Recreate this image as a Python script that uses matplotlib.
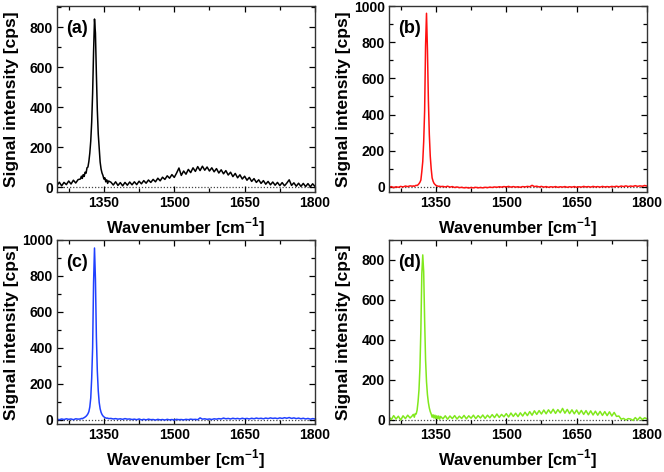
import numpy as np
import matplotlib
matplotlib.use("Agg")
import matplotlib.pyplot as plt
from matplotlib.ticker import MultipleLocator

plt.rcParams["font.family"] = ["Liberation Sans", "DejaVu Sans"]
plt.rcParams["font.weight"] = "bold"
plt.rcParams["mathtext.fontset"] = "custom"
plt.rcParams["mathtext.rm"] = "Liberation Sans:bold"
plt.rcParams["mathtext.bf"] = "Liberation Sans:bold"

# wavenumber grid: coarse left, dense around the diamond peak, coarse right
WN = np.concatenate([np.arange(1250, 1300, 5),
                     np.arange(1300, 1362, 2),
                     np.arange(1365, 1805, 5)])

INT_A = [
    # 1250-1295
    8, 24, 6, 23, 12, 30, 15, 34, 20, 37,
    # 1300-1360 (step 2)
    40, 54, 43, 62, 53, 74, 69, 96, 100, 128,
    170, 230, 325, 470, 675, 840, 770, 565, 385, 265,
    192, 125, 90, 70, 58, 40, 46, 26, 36, 18, 30,
    # 1365-1800
    24, 10, 26, 8, 22, 6, 23, 9, 25, 11,
    26, 12, 29, 16, 32, 19, 35, 23, 38, 26,
    44, 31, 49, 38, 56, 44, 62, 48, 70, 95,
    58, 80, 64, 88, 72, 96, 78, 102, 82, 104,
    84, 100, 80, 96, 76, 92, 70, 86, 66, 82,
    60, 74, 52, 68, 46, 61, 40, 54, 34, 48,
    28, 42, 23, 36, 18, 32, 14, 28, 11, 25,
    9, 23, 7, 22, 6, 20, 36, 8, 21, 4,
    19, 3, 18, 2, 17, 1, 16, 3,
]

INT_B = [
    -3, 2, -4, 1, -2, 3, 0, 5, 2, 6,
    4, 6, 3, 7, 9, 8, 12, 18, 26, 38,
    85, 140, 250, 420, 780, 960, 760, 480, 290, 170,
    100, 50, 32, 20, 14, 9, 6, 5, 3, 4, 2,
    3, 0, 4, -1, 2, -3, 0, -4, -2, -5,
    -3, -6, -3, -5, -2, -5, -3, -5, -2, -4,
    -1, -3, 0, -2, 1, -1, 2, 0, 3, -1,
    2, -1, 1, -2, 2, 0, 3, 1, 9, 2,
    4, 0, 3, -1, 2, -2, 1, -1, 2, -2,
    1, -1, 2, -2, 1, -1, 2, -2, 1, -1,
    3, 0, 2, -1, 3, 0, 2, -1, 3, 0,
    2, 0, 3, 1, 4, 1, 5, 2, 6, 2,
    5, 3, 7, 3, 6, 4, 8, 5,
]

INT_C = [
    2, -1, 3, 0, 4, 1, 3, -1, 4, 2,
    3, 6, 4, 8, 10, 14, 18, 24, 32, 44,
    70, 120, 230, 400, 760, 955, 780, 460, 270, 160,
    95, 60, 40, 28, 20, 15, 11, 9, 7, 8, 5,
    6, 3, 5, 2, 4, 1, 5, 2, 3, 0,
    2, -1, 3, -2, 1, -2, 2, -1, 0, -3,
    1, -2, 0, -3, 1, -2, 0, -3, 1, -1,
    0, -2, 1, -1, 2, 0, 1, -1, 9, 2,
    4, 1, 3, 0, 4, 2, 5, 3, 8, 4,
    6, 3, 7, 4, 6, 3, 7, 4, 6, 3,
    7, 4, 8, 5, 7, 4, 8, 5, 9, 6,
    8, 5, 9, 6, 10, 7, 11, 6, 9, 5,
    8, 4, 7, 3, 6, 2, 5, 3,
]

INT_D = [
    14, 0, 20, 3, 17, -2, 19, 5, 22, 8,
    20, 26, 12, 30, 28, 48, 90, 150, 260, 450,
    730, 825, 740, 500, 300, 190, 125, 85, 58, 40,
    28, 12, 24, 8, 22, 5, 19, 4, 18, 2, 16,
    4, 19, 2, 18, 5, 20, 3, 17, 6, 21,
    4, 19, 7, 22, 5, 20, 8, 23, 6, 22,
    9, 25, 10, 28, 11, 26, 14, 30, 13, 33,
    16, 32, 15, 34, 18, 37, 20, 40, 22, 44,
    26, 45, 28, 48, 29, 49, 32, 52, 31, 50,
    34, 56, 32, 51, 30, 49, 29, 48, 27, 46,
    26, 45, 24, 44, 23, 42, 22, 41, 21, 40,
    20, 39, 18, 36, 16, 18, 2, 6, -2, 5,
    3, -4, 10, -2, 12, 0, 9, 4,
]

PANELS = [
    ("(a)", INT_A, "#000000", (-25, 905), 800, [0.0858, 0.5932, 0.3886, 0.394]),
    ("(b)", INT_B, "#ff1010", (-28, 1000), 1000, [0.5858, 0.5932, 0.3886, 0.394]),
    ("(c)", INT_C, "#2040ff", (-25, 1000), 1000, [0.0858, 0.1017, 0.3886, 0.390]),
    ("(d)", INT_D, "#80e81c", (-22, 900), 800, [0.5858, 0.1017, 0.3886, 0.390]),
]

fig = plt.figure(figsize=(6.64, 4.72), dpi=100)

for tag, vals, color, ylim, ytop, pos in PANELS:
    ax = fig.add_axes(pos)
    ax.axhline(0, color="#444444", linestyle=(0, (1, 1.5)), linewidth=0.9, zorder=1)
    ax.plot(WN, vals, color=color, linewidth=1.1, zorder=2)

    ax.set_xlim(1250, 1800)
    ax.set_ylim(*ylim)
    ax.set_xticks([1350, 1500, 1650, 1800])
    ax.xaxis.set_minor_locator(MultipleLocator(75))
    ax.set_yticks(np.arange(0, ytop + 1, 200))
    ax.yaxis.set_minor_locator(MultipleLocator(100))
    ax.tick_params(which="both", direction="in", top=True, right=True,
                   width=0.9, labelsize=10, pad=3)
    ax.tick_params(which="major", length=4)
    ax.tick_params(which="minor", length=3)
    for lab in ax.get_xticklabels() + ax.get_yticklabels():
        lab.set_fontweight("bold")
    for sp in ax.spines.values():
        sp.set_linewidth(1.0)
        sp.set_color("#333333")

    ax.set_xlabel(r"Wavenumber [cm$^{\mathbf{-1}}$]", fontsize=12,
                  fontweight="bold", labelpad=4)
    ax.set_ylabel("Signal intensity [cps]", fontsize=12.5, fontweight="bold")
    ax.yaxis.set_label_coords(-0.148, 0.5)
    ax.text(0.035, 0.925, tag, transform=ax.transAxes, ha="left", va="top",
            fontsize=13, fontweight="bold")

fig.savefig("out.png", dpi=100, facecolor="white")
